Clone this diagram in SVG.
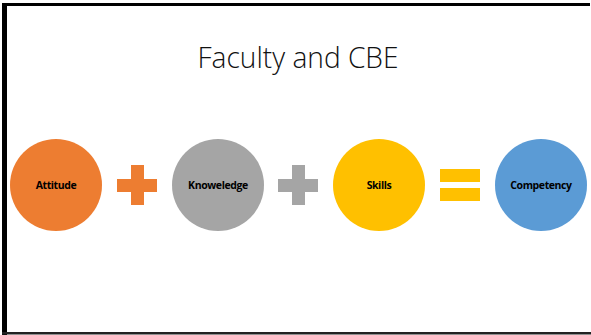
<svg xmlns="http://www.w3.org/2000/svg" width="591" height="335" viewBox="0 0 591 335">
  <style>
    .frame { fill: #000; }
    .title { font-family: "Open Sans", "Liberation Sans", sans-serif; font-weight: 300; font-size: 30px; fill: #111; }
    .label { font-family: "Open Sans", "Liberation Sans", sans-serif; font-weight: 700; font-size: 10.5px; fill: #000; letter-spacing: -0.4px; }
    .orange { fill: #ED7D31; }
    .gray { fill: #A5A5A5; }
    .yellow { fill: #FFC000; }
    .blue { fill: #5B9BD5; }
  </style>
  <rect width="591" height="335" fill="#fff"/>
  <!-- slide frame: thick left and top edges, thin bottom edge -->
  <rect class="frame" x="2" y="3" width="5" height="332"/>
  <rect class="frame" x="2" y="3" width="588" height="3"/>
  <rect x="2" y="332" width="589" height="2.5" fill="#222"/>

  <text class="title" x="298" y="68" text-anchor="middle" textLength="201" lengthAdjust="spacingAndGlyphs">Faculty and CBE</text>

  <g id="attitude">
    <circle class="orange" cx="56" cy="185" r="46"/>
    <text class="label" x="56" y="189" text-anchor="middle">Attitude</text>
  </g>
  <g id="plus-1">
    <rect class="orange" x="131" y="165" width="13" height="40"/>
    <rect class="orange" x="117" y="179" width="40" height="13"/>
  </g>
  <g id="knoweledge">
    <circle class="gray" cx="218" cy="185" r="46"/>
    <text class="label" x="218" y="189" text-anchor="middle">Knoweledge</text>
  </g>
  <g id="plus-2">
    <rect class="gray" x="292" y="165" width="13" height="40"/>
    <rect class="gray" x="278" y="179" width="40" height="13"/>
  </g>
  <g id="skills">
    <circle class="yellow" cx="379" cy="185" r="46"/>
    <text class="label" x="379" y="189" text-anchor="middle">Skills</text>
  </g>
  <g id="equals">
    <rect class="yellow" x="440" y="169" width="40" height="13"/>
    <rect class="yellow" x="440" y="188" width="40" height="13"/>
  </g>
  <g id="competency">
    <circle class="blue" cx="541" cy="185" r="46"/>
    <text class="label" x="541" y="189" text-anchor="middle">Competency</text>
  </g>
  <g id="connectors"/>
</svg>
